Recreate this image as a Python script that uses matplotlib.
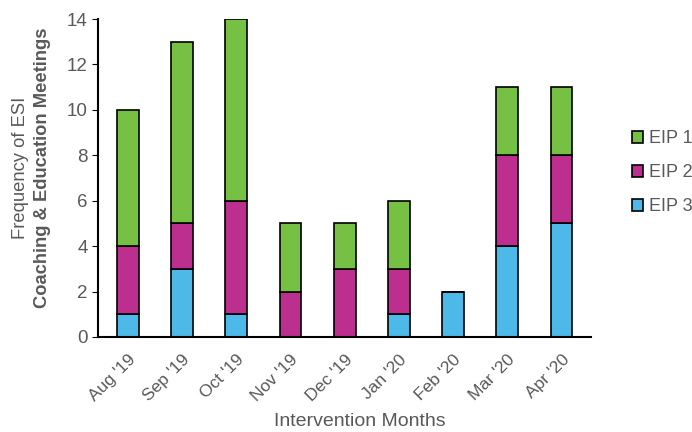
import matplotlib
matplotlib.use('Agg')
import matplotlib.pyplot as plt
import numpy as np

plt.rcParams['font.family'] = ['Liberation Sans', 'DejaVu Sans']

months = ["Aug '19", "Sep '19", "Oct '19", "Nov '19", "Dec '19",
          "Jan '20", "Feb '20", "Mar '20", "Apr '20"]
eip3 = [1, 3, 1, 0, 0, 1, 2, 4, 5]
eip2 = [3, 2, 5, 2, 3, 2, 0, 4, 3]
eip1 = [6, 8, 8, 3, 2, 3, 0, 3, 3]

gray = '#595959'
fig = plt.figure(figsize=(6.92, 4.32), dpi=100)
ax = fig.add_axes([0.1416, 0.22, 0.713, 0.736])

x = np.arange(len(months))
w = 0.4
b3 = ax.bar(x, eip3, w, color='#4DB9E8', edgecolor='black', linewidth=1.2, label='EIP 3')
b2 = ax.bar(x, eip2, w, bottom=eip3, color='#BC2F8E', edgecolor='black', linewidth=1.2, label='EIP 2')
bottom1 = np.array(eip3) + np.array(eip2)
b1 = ax.bar(x, eip1, w, bottom=bottom1, color='#76C043', edgecolor='black', linewidth=1.2, label='EIP 1')

ax.set_xlim(-0.55, len(months) - 0.45)
ax.set_ylim(0, 14)
ax.set_yticks(range(0, 15, 2))
ax.set_xticks(x)
ax.set_xticklabels(months, rotation=45, ha='right', rotation_mode='anchor')
ax.tick_params(axis='x', length=0, labelsize=12.5, pad=11)
ax.tick_params(axis='y', length=4, labelsize=13.5, direction='out', color='black')
for lab in ax.get_xticklabels() + ax.get_yticklabels():
    lab.set_color(gray)

for s in ['top', 'right']:
    ax.spines[s].set_visible(False)
for s in ['left', 'bottom']:
    ax.spines[s].set_linewidth(1.5)

# axis titles placed by hand to match the layout
fig.text(0.52, 1 - 422 / 432, 'Intervention Months', color=gray, fontsize=14,
         ha='center', va='center')
fig.text(0.029, 0.612, 'Frequency of ESI', rotation=90, color=gray,
         fontsize=13.2, ha='center', va='center')
fig.text(0.061, 0.612, 'Coaching & Education Meetings', rotation=90, color=gray,
         fontsize=13.2, fontweight='bold', ha='center', va='center')

leg = ax.legend(handles=[b1, b2, b3], loc='center left', bbox_to_anchor=(0.914, 0.6),
                bbox_transform=fig.transFigure, frameon=False, fontsize=13,
                handlelength=0.6, handleheight=0.6, handletextpad=0.3, labelspacing=0.95,
                labelcolor=gray, borderaxespad=0, borderpad=0)

fig.savefig('out.png', dpi=100)
